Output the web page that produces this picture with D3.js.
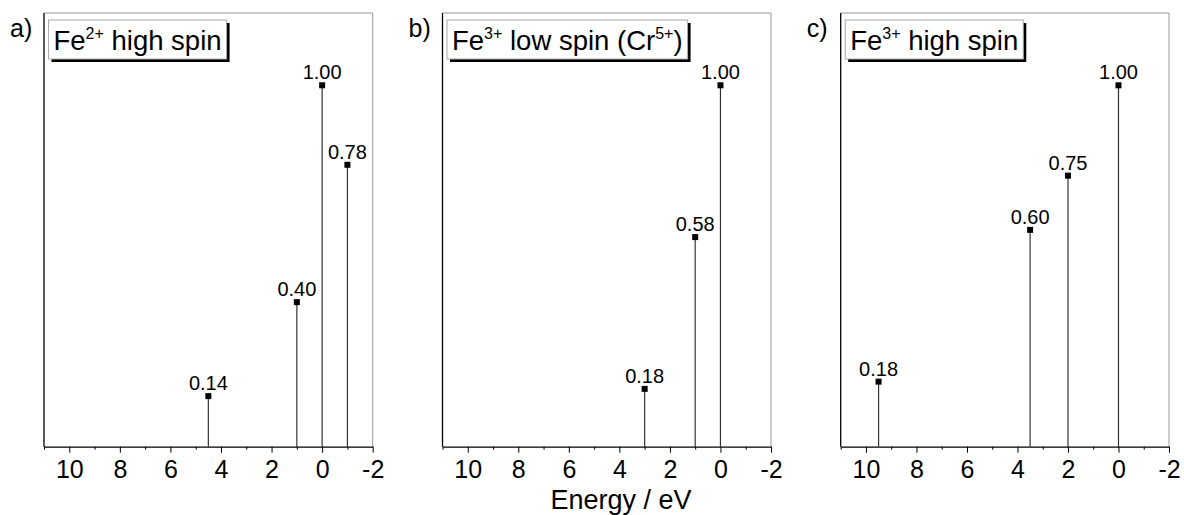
<!DOCTYPE html>
<html>
<head>
<meta charset="utf-8">
<script src="https://cdn.jsdelivr.net/npm/d3@7"></script>
<style>
  body { margin: 0; background: #fff; }
  svg { font-family: "Liberation Sans", Arial, sans-serif; }
</style>
</head>
<body>
<svg id="chart"></svg>
<script>
// data
var energyA = [4.5, 1, 0, -1],
    intensityA = [0.14, 0.40, 1.00, 0.78],
    labelA = ["0.14", "0.40", "1.00", "0.78"];

var energyB = [3, 1, 0],
    intensityB = [0.16, 0.58, 1.00],
    labelB = ["0.18", "0.58", "1.00"];

var energyC = [9.5, 3.5, 2, 0],
    intensityC = [0.18, 0.60, 0.75, 1.00],
    labelC = ["0.18", "0.60", "0.75", "1.00"];

var majorTicks = [10, 8, 6, 4, 2, 0, -2],
    minorTicks = [11, 9, 7, 5, 3, 1, -1];

var width = 1184, height = 515;
var svg = d3.select("#chart").attr("width", width).attr("height", height);

var plotTop = 13, plotBottom = 446.7;
var y = d3.scaleLinear().domain([0, 1.2]).range([plotBottom, plotTop]);

var panels = [
  {letter: "a)", left: 44, right: 372.7, ion: "2+", rest: " high spin", extra: null,
   e: energyA, v: intensityA, lab: labelA},
  {letter: "b)", left: 442.5, right: 771, ion: "3+", rest: " low spin (Cr", extra: "5+",
   e: energyB, v: intensityB, lab: labelB},
  {letter: "c)", left: 840.7, right: 1169, ion: "3+", rest: " high spin", extra: null,
   e: energyC, v: intensityC, lab: labelC}
];

panels.forEach(function(p) {
  var x = d3.scaleLinear().domain([11, -2]).range([p.left, p.right]);
  var g = svg.append("g");

  // frame: gray top/right
  g.append("path")
      .attr("d", "M" + p.left + "," + plotTop + "H" + p.right + "V" + plotBottom)
      .attr("fill", "none").attr("stroke", "#999").attr("stroke-width", 1);

  // left axis line
  g.append("line")
      .attr("x1", p.left).attr("x2", p.left).attr("y1", plotTop).attr("y2", plotBottom)
      .attr("stroke", "#000").attr("stroke-width", 1.3);

  // minor ticks
  g.append("g")
      .attr("transform", "translate(0," + plotBottom + ")")
      .call(d3.axisBottom(x).tickValues(minorTicks).tickSize(3).tickFormat(""))
      .call(function(a) { a.select(".domain").remove(); });

  // major ticks
  var ax = g.append("g")
      .attr("transform", "translate(0," + plotBottom + ")")
      .call(d3.axisBottom(x).tickValues(majorTicks).tickSize(6).tickPadding(8)
        .tickSizeOuter(0).tickFormat(function(d) { return String(d); }));
  ax.select(".domain").attr("stroke-width", 1.3);
  ax.selectAll("text").attr("font-size", 25).attr("fill", "#000")
      .attr("font-family", "Liberation Sans, Arial, sans-serif");

  // stems
  var idx = d3.range(p.e.length);
  g.selectAll(".stem").data(idx).enter().append("line")
      .attr("class", "stem")
      .attr("x1", function(i) { return x(p.e[i]); })
      .attr("x2", function(i) { return x(p.e[i]); })
      .attr("y1", y(0))
      .attr("y2", function(i) { return y(p.v[i]); })
      .attr("stroke", "#333").attr("stroke-width", 1.2);

  g.selectAll(".mk").data(idx).enter().append("rect")
      .attr("class", "mk")
      .attr("x", function(i) { return x(p.e[i]) - 3; })
      .attr("y", function(i) { return y(p.v[i]) - 3; })
      .attr("width", 6).attr("height", 6)
      .attr("fill", "#000");

  g.selectAll(".val").data(idx).enter().append("text")
      .attr("class", "val")
      .attr("x", function(i) { return x(p.e[i]); })
      .attr("y", function(i) { return y(p.v[i]) - 6; })
      .attr("text-anchor", "middle")
      .attr("font-size", 20)
      .text(function(i) { return p.lab[i]; });

  // panel letter
  svg.append("text")
      .attr("x", p.left - 34).attr("y", 37)
      .attr("font-size", 25)
      .text(p.letter);

  // title box with shadow
  var bx = p.left + 4.5, by = 20, bh = 39;
  var box = g.append("g");
  var shadow = box.append("rect");
  var face = box.append("rect");
  var t = box.append("text")
      .attr("x", bx + 5).attr("y", 50)
      .attr("font-size", 27.5);
  t.append("tspan").text("Fe");
  t.append("tspan").attr("dy", -11).attr("font-size", 16).text(p.ion);
  t.append("tspan").attr("dy", 11).text(p.rest);
  if (p.extra) {
    t.append("tspan").attr("dy", -11).attr("font-size", 16).text(p.extra);
    t.append("tspan").attr("dy", 11).text(")");
  }
  var bw = t.node().getComputedTextLength() + 10;
  shadow.attr("x", bx + 3).attr("y", by + 3).attr("width", bw).attr("height", bh)
      .attr("fill", "#000");
  face.attr("x", bx).attr("y", by).attr("width", bw).attr("height", bh)
      .attr("fill", "#fff").attr("stroke", "#aaa").attr("stroke-width", 1);
});

// shared axis title
svg.append("text")
    .attr("x", 621).attr("y", 509)
    .attr("text-anchor", "middle")
    .attr("font-size", 27)
    .text("Energy / eV");
</script>
</body>
</html>
